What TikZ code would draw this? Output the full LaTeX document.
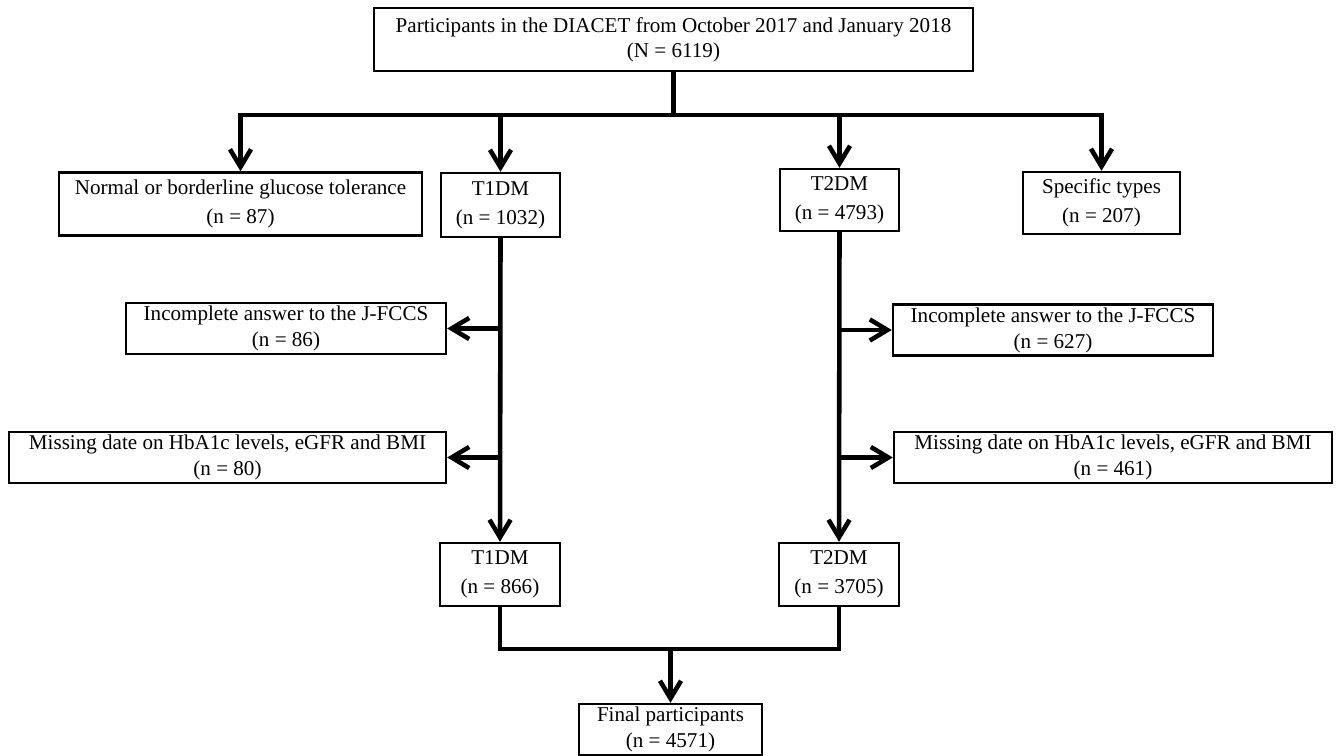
\documentclass[tikz,border=0pt]{standalone}
\usepackage{fontspec}
\setmainfont{Liberation Serif}
\usepackage{tikz}
\usetikzlibrary{arrows.meta}
\tikzset{box node/.style={rectangle,draw,line width=1.4pt,inner sep=0pt,align=center,font=\fontsize{12}{14.8}\selectfont},}
\tikzset{tall node/.style={box node,minimum height=1.26cm,font=\fontsize{12}{16.5}\selectfont},}
\tikzset{flat node/.style={box node,minimum height=1.02cm},}
\tikzset{flow line/.style={line width=2.6pt},}
\tikzset{flow arrow/.style={flow line,-{Straight Barb[length=10pt,width=12pt]}},}

\begin{document}
\begin{tikzpicture}[x=0.02cm,y=-0.02cm]
       \useasboundingbox (0,0) rectangle (1336,756);

       \node[tall node,minimum width=11.98cm,font=\fontsize{12}{14.3}\selectfont] (1) at (673.5,39.5) {Participants in the DIACET from October 2017 and January 2018\\(N = 6119)};
       \node[tall node,minimum width=7.26cm] (2) at (240.5,204) {Normal or borderline glucose tolerance\\(n = 87)};
       \node[tall node,minimum width=2.38cm,minimum height=1.28cm] (3) at (500.5,205) {T1DM\\(n = 1032)};
       \node[tall node,minimum width=2.38cm,minimum height=1.24cm] (4) at (839.5,200) {T2DM\\(n = 4793)};
       \node[tall node,minimum width=3.14cm,minimum height=1.24cm] (5) at (1101.5,203) {Specific types\\(n = 207)};
       \node[flat node,minimum width=6.4cm] (6) at (286,328.5) {Incomplete answer to the J-FCCS\\(n = 86)};
       \node[flat node,minimum width=6.4cm] (7) at (1053,330) {Incomplete answer to the J-FCCS\\(n = 627)};
       \node[flat node,minimum width=8.74cm] (8) at (227.5,457.5) {Missing date on HbA1c levels, eGFR and BMI\\(n = 80)};
       \node[flat node,minimum width=8.76cm] (9) at (1113,457.5) {Missing date on HbA1c levels, eGFR and BMI\\(n = 461)};
       \node[tall node,minimum width=2.4cm] (10) at (500,574.5) {T1DM\\(n = 866)};
       \node[tall node,minimum width=2.4cm] (11) at (839,574.5) {T2DM\\(n = 3705)};
       \node[flat node,minimum width=3.66cm] (12) at (670.5,729.5) {Final participants\\(n = 4571)};

       \coordinate (split) at (1.south |- 0,115);
       \coordinate (join) at (12.north |- 0,649);

       \draw[flow line] (1.south) -- (split);
       \foreach \n in {2,3,4,5}
             \draw[flow arrow] (split) -| (\n.north);

       \draw[flow arrow] (3.south) -- (10.north);
       \draw[flow arrow] (4.south) -- (11.north);
       \draw[flow arrow] (3.south |- 6.east) -- (6.east);
       \draw[flow arrow] (3.south |- 8.east) -- (8.east);
       \draw[flow arrow] (4.south |- 7.west) -- (7.west);
       \draw[flow arrow] (4.south |- 9.west) -- (9.west);

       \draw[flow line] (10.south) |- (join) -| (11.south);
       \draw[flow arrow] (join) -- (12.north);
\end{tikzpicture}
\end{document}
